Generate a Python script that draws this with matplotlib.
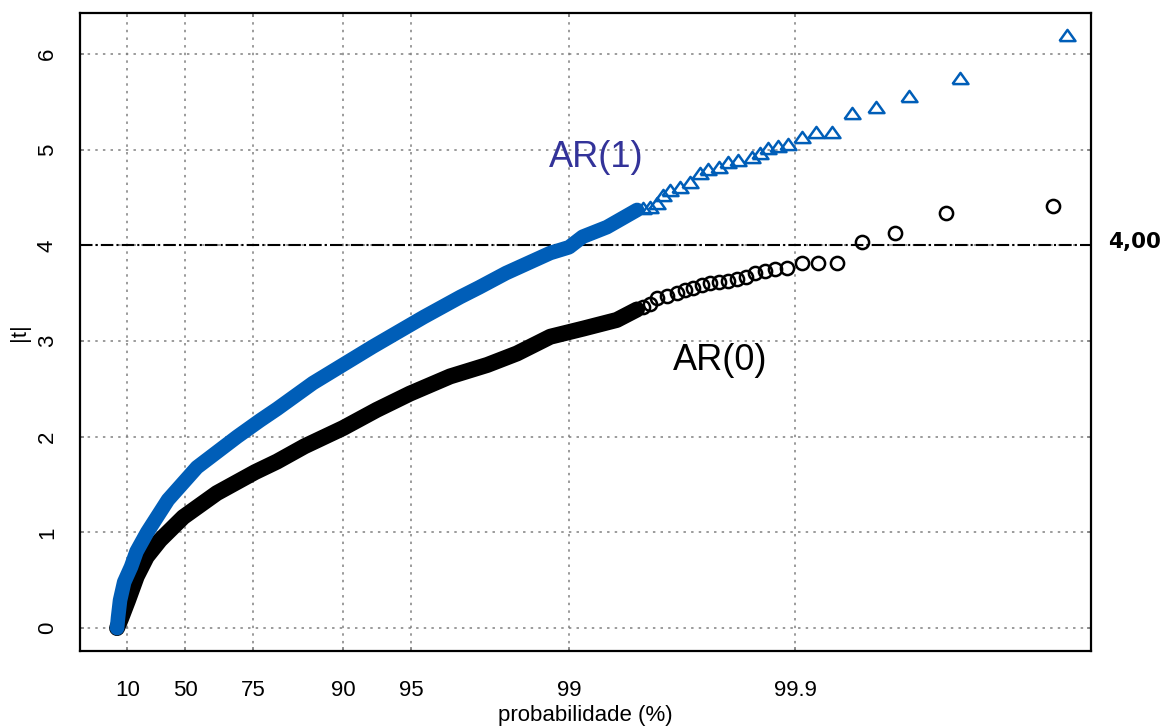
import numpy as np
import matplotlib.pyplot as plt

plt.rcParams['font.family'] = ['Liberation Sans', 'DejaVu Sans']

# AR(0): dense part of the curve (probability %, |t|) and the separate points of the tail
ar0_dense_p = [0.01, 4.0, 10.6, 18.2, 26.1, 35.5, 49.1, 63.8, 75.5, 80.4, 85.2, 90.0,
               92.9, 94.94, 96.64, 97.7, 98.3, 98.79, 99.135, 99.385, 99.5]
ar0_dense_t = [0.0, 0.1, 0.29, 0.54, 0.745, 0.92, 1.16, 1.41, 1.63, 1.74, 1.9, 2.09,
               2.28, 2.45, 2.63, 2.75, 2.87, 3.045, 3.13, 3.22, 3.33]
ar0_tail_p = [99.53, 99.56, 99.591, 99.630, 99.667, 99.693, 99.718, 99.741, 99.762,
              99.782, 99.803, 99.819, 99.835, 99.850, 99.864, 99.8775, 99.8919,
              99.9066, 99.9206, 99.935, 99.9493, 99.9639, 99.97847, 99.99276]
ar0_tail_t = [3.36, 3.39, 3.446, 3.470, 3.498, 3.533, 3.551, 3.585, 3.603,
              3.620, 3.630, 3.645, 3.672, 3.708, 3.732, 3.752, 3.760,
              3.812, 3.812, 3.818, 4.038, 4.126, 4.335, 4.411]

# AR(1)
ar1_dense_p = [0.01, 1.0, 3.0, 7.0, 13.3, 18.0, 26.4, 40.5, 55.7, 70.6, 76.7, 80.4,
               86.4, 92.6, 95.6, 96.97, 97.5, 98.1, 98.79, 99.0, 99.13, 99.32, 99.5]
ar1_dense_t = [0.0, 0.11, 0.29, 0.48, 0.64, 0.8, 1.0, 1.34, 1.68, 2.0, 2.17, 2.29,
               2.56, 2.94, 3.25, 3.46, 3.56, 3.71, 3.92, 3.98, 4.09, 4.19, 4.37]
ar1_tail_p = [99.53, 99.56, 99.591, 99.617, 99.643, 99.677, 99.708, 99.737, 99.758,
              99.782, 99.803, 99.822, 99.8445, 99.8571, 99.8688, 99.8814, 99.8929,
              99.9067, 99.9191, 99.9311, 99.9439, 99.9564, 99.9688, 99.9814, 99.99372]
ar1_tail_t = [4.39, 4.40, 4.44, 4.526, 4.578, 4.613, 4.665, 4.753, 4.794,
              4.822, 4.874, 4.892, 4.920, 4.962, 5.014, 5.038, 5.059,
              5.135, 5.188, 5.188, 5.386, 5.443, 5.561, 5.746, 6.198]

x_ticks = [10, 50, 75, 90, 95, 99, 99.9]
x_tick_labels = ['10', '50', '75', '90', '95', '99', '99.9']
y_ticks = [0, 1, 2, 3, 4, 5, 6]
t_limit = 4.0

blue = '#005EB8'


def fwd(p):
    p = np.asarray(p, dtype=float)
    return -np.log10(np.clip(1 - p / 100.0, 1e-12, None))


def inv(x):
    x = np.asarray(x, dtype=float)
    return 100.0 * (1 - 10 ** (-x))


fig = plt.figure(figsize=(11.67, 7.27), dpi=100)
ax = fig.add_axes([0.0686, 0.1045, 0.8663, 0.8776])
ax.set_xscale('function', functions=(fwd, inv))
ax.set_xlim(-45.8, 99.9951)
ax.set_ylim(-0.24, 6.428)

ax.set_xticks(x_ticks)
ax.set_xticklabels(x_tick_labels)
ax.set_yticks(y_ticks)
ax.minorticks_off()
ax.set_axisbelow(True)
ax.grid(True, color='#808080', linestyle=(0, (1.6, 3.4)), linewidth=1.1)

ax.axhline(t_limit, color='black', lw=1.5, ls=(0, (6, 1.5, 1, 1.5)), zorder=2)

# AR(0) - black circles
ax.plot(ar0_dense_p, ar0_dense_t, color='black', lw=11.5,
        solid_capstyle='round', solid_joinstyle='round', zorder=3)
ax.plot(ar0_tail_p, ar0_tail_t, ls='none', marker='o', ms=9.5,
        mfc='none', mec='black', mew=1.8, zorder=3)

# AR(1) - blue triangles
tri = [(-1, -0.7), (1, -0.7), (0, 0.7), (-1, -0.7)]
ax.plot(ar1_dense_p, ar1_dense_t, color=blue, lw=10.5,
        solid_capstyle='round', solid_joinstyle='round', zorder=4)
ax.plot(ar1_tail_p, ar1_tail_t, ls='none', marker=tri, ms=11.5,
        mfc='none', mec=blue, mew=1.8, zorder=4)

ax.text(0.511, 0.774, 'AR(1)', transform=ax.transAxes, ha='center', va='center',
        fontsize=26, color='#333399')
ax.text(0.633, 0.456, 'AR(0)', transform=ax.transAxes, ha='center', va='center',
        fontsize=26, color='black')
ax.text(1.017, 0.641, '4,00', transform=ax.transAxes, ha='left', va='center',
        fontsize=15.5, fontweight='bold', family='DejaVu Sans', clip_on=False)

for s in ax.spines.values():
    s.set_linewidth(1.6)
    s.set_color('black')

ax.tick_params(axis='both', direction='in', length=3, width=1.2, color='#808080',
               top=True, right=True, labelsize=16)
ax.tick_params(axis='x', pad=21)
ax.tick_params(axis='y', pad=16, labelrotation=90)
for lab in ax.get_yticklabels():
    lab.set_va('center')

ax.set_xlabel('probabilidade (%)', fontsize=16, labelpad=3)
ax.set_ylabel('|t|', fontsize=16, labelpad=5)

fig.savefig('out.png', dpi=100)
